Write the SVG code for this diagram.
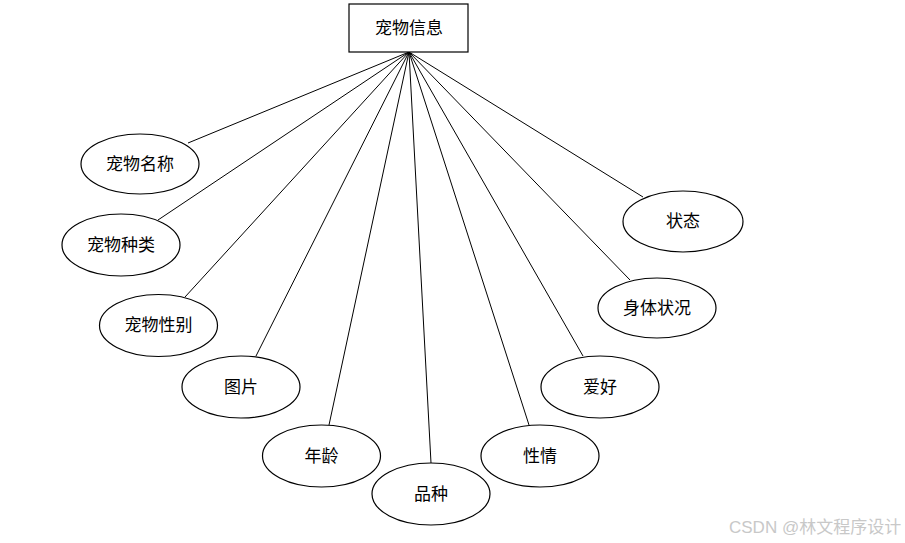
<svg xmlns="http://www.w3.org/2000/svg" width="905" height="543" viewBox="0 0 905 543">
<style>
.n{fill:#fff;stroke:#000;stroke-width:1.2}
.t{font-family:"Liberation Serif","Noto Sans CJK SC",serif;font-size:17px;fill:#000;text-anchor:middle;dominant-baseline:central}
.c line{stroke:#000;stroke-width:1}
.wm{font-family:"Liberation Sans","Noto Sans CJK SC",sans-serif;font-size:17px;fill:#c8c8c8}
</style>
<rect width="905" height="543" fill="#fff"/>
<g class="c" id="connectors">
<line x1="409" y1="52" x2="188" y2="143"/>
<line x1="409" y1="52" x2="158" y2="220"/>
<line x1="409" y1="52" x2="185" y2="297"/>
<line x1="409" y1="52" x2="256" y2="356"/>
<line x1="409" y1="52" x2="329" y2="425"/>
<line x1="409" y1="52" x2="431" y2="463"/>
<line x1="409" y1="52" x2="529" y2="425"/>
<line x1="409" y1="52" x2="583" y2="356"/>
<line x1="409" y1="52" x2="630" y2="280"/>
<line x1="409" y1="52" x2="643" y2="197"/>
</g>
<g id="pet-info"><rect class="n" x="349" y="4" width="119" height="48"/><text class="t" x="409" y="28">宠物信息</text></g>
<g id="pet-name"><ellipse class="n" cx="140" cy="164" rx="59" ry="30"/><text class="t" x="140" y="164">宠物名称</text></g>
<g id="pet-type"><ellipse class="n" cx="121" cy="245" rx="59" ry="31"/><text class="t" x="121" y="245">宠物种类</text></g>
<g id="pet-gender"><ellipse class="n" cx="158.5" cy="325.5" rx="59" ry="31"/><text class="t" x="158.5" y="325.5">宠物性别</text></g>
<g id="picture"><ellipse class="n" cx="241" cy="387" rx="59" ry="31"/><text class="t" x="241" y="387">图片</text></g>
<g id="age"><ellipse class="n" cx="321.5" cy="456" rx="59" ry="31"/><text class="t" x="321.5" y="456">年龄</text></g>
<g id="breed"><ellipse class="n" cx="431" cy="494" rx="59" ry="31"/><text class="t" x="431" y="494">品种</text></g>
<g id="temper"><ellipse class="n" cx="540" cy="456" rx="59" ry="31"/><text class="t" x="540" y="456">性情</text></g>
<g id="hobby"><ellipse class="n" cx="600" cy="387" rx="59" ry="31"/><text class="t" x="600" y="387">爱好</text></g>
<g id="health"><ellipse class="n" cx="657" cy="308" rx="59" ry="30"/><text class="t" x="657" y="308">身体状况</text></g>
<g id="status"><ellipse class="n" cx="683" cy="221.5" rx="60" ry="30.5"/><text class="t" x="683" y="221.5">状态</text></g>
<text class="wm" x="729" y="533">CSDN @林文程序设计</text>
</svg>
